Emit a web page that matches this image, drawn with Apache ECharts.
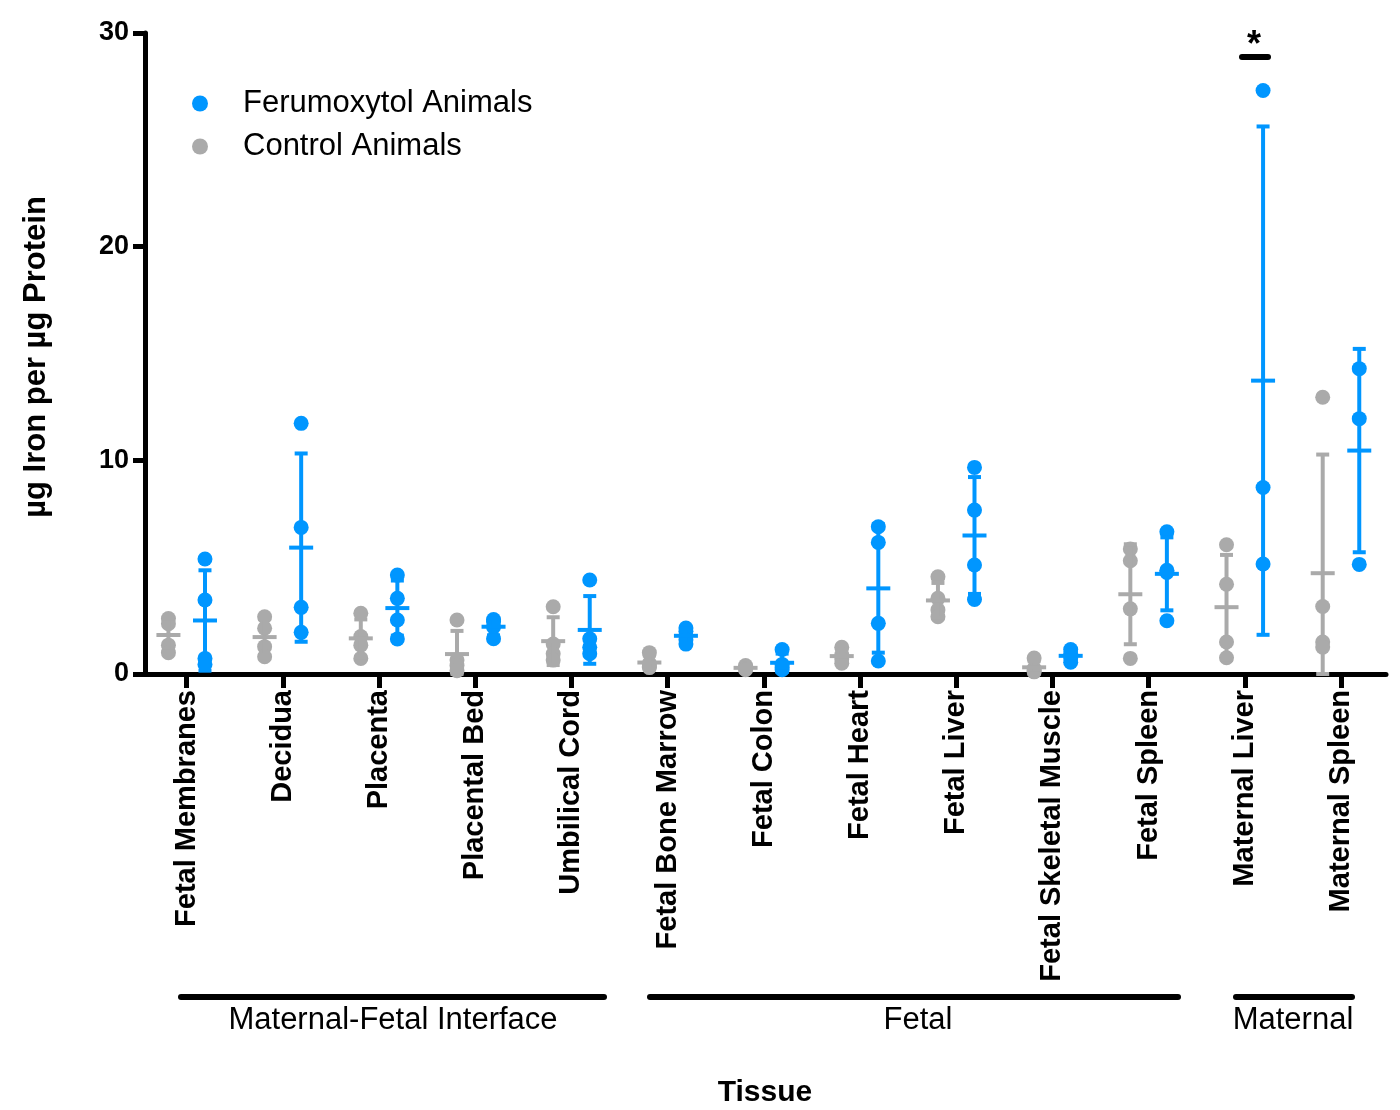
<!DOCTYPE html>
<html>
<head>
<meta charset="utf-8">
<script src="https://cdn.jsdelivr.net/npm/echarts@6/dist/echarts.min.js"></script>
<style>
html,body{margin:0;padding:0;background:#ffffff;}
#c{width:1400px;height:1110px;}
</style>
</head>
<body>
<div id="c"></div>
<script>
// ---------- data ----------
const categories = [
  'Fetal Membranes', 'Decidua', 'Placenta', 'Placental Bed', 'Umbilical Cord',
  'Fetal Bone Marrow', 'Fetal Colon', 'Fetal Heart', 'Fetal Liver',
  'Fetal Skeletal Muscle', 'Fetal Spleen', 'Maternal Liver', 'Maternal Spleen'
];
const controlValues = [
  [2.6, 2.35, 1.35, 1.0],
  [2.68, 2.14, 1.28, 0.81],
  [2.84, 1.75, 1.35, 0.73],
  [2.53, 0.65, 0.4, 0.15],
  [3.15, 1.4, 0.95, 0.65],
  [1.0, 0.5, 0.35, 0.3],
  [0.4, 0.3, 0.25, 0.2],
  [1.25, 0.9, 0.7, 0.5],
  [4.55, 3.54, 3.0, 2.68],
  [0.75, 0.25, 0.15, 0.1],
  [5.85, 5.3, 3.05, 0.73],
  [6.05, 4.2, 1.5, 0.76],
  [12.95, 3.16, 1.5, 1.26]
];
const ferumoxytolValues = [
  [5.38, 3.46, 0.73, 0.45],
  [11.73, 6.86, 3.12, 1.95],
  [4.63, 3.54, 2.53, 1.64],
  [2.55, 2.45, 2.2, 1.65],
  [4.4, 1.65, 1.25, 0.95],
  [2.15, 2.0, 1.6, 1.4],
  [1.15, 0.45, 0.3, 0.2],
  [6.89, 6.16, 2.37, 0.61],
  [9.67, 7.67, 5.1, 3.49],
  [1.15, 0.95, 0.75, 0.55],
  [6.66, 4.85, 4.75, 2.49],
  [27.31, 8.73, 5.15],
  [14.29, 11.95, 5.13]
];
const yTickLabels = [0, 10, 20, 30];
const seriesNames = ['Ferumoxytol Animals', 'Control Animals'];
const groupLabels = ['Maternal-Fetal Interface', 'Fetal', 'Maternal'];
const axisTitles = { x: 'Tissue', y: 'µg Iron per µg Protein' };
const significanceMark = '*';

// ---------- styling ----------
const BLUE = '#0096FF';
const GRAY = '#AAAAAA';
const FONT = '"Liberation Sans", Arial, Helvetica, sans-serif';
const CTRL_OFF = -0.19;
const FER_OFF = 0.19;

// mean and SD computed from the points above
function stats(arr) {
  const n = arr.length;
  const m = arr.reduce((a, b) => a + b, 0) / n;
  const v = arr.reduce((a, b) => a + (b - m) * (b - m), 0) / (n - 1);
  return { mean: m, sd: Math.sqrt(v) };
}
function pointData(vals, off) {
  const out = [];
  vals.forEach((arr, i) => arr.forEach(v => out.push([i + off, v])));
  return out;
}
function summaryData(vals, off) {
  return vals.map((arr, i) => {
    const s = stats(arr);
    return [i + off, s.mean, Math.max(0, s.mean - s.sd), s.mean + s.sd];
  });
}
function errRender(color) {
  return function (params, api) {
    const x = api.value(0);
    const pm = api.coord([x, api.value(1)]);
    const plo = api.coord([x, api.value(2)]);
    const phi = api.coord([x, api.value(3)]);
    const st = { stroke: color, lineWidth: 4 };
    return {
      type: 'group',
      children: [
        { type: 'line', shape: { x1: pm[0], y1: plo[1], x2: pm[0], y2: phi[1] }, style: st },
        { type: 'line', shape: { x1: pm[0] - 6.5, y1: phi[1], x2: pm[0] + 6.5, y2: phi[1] }, style: st },
        { type: 'line', shape: { x1: pm[0] - 6.5, y1: plo[1], x2: pm[0] + 6.5, y2: plo[1] }, style: st },
        { type: 'line', shape: { x1: pm[0] - 12, y1: pm[1], x2: pm[0] + 12, y2: pm[1] }, style: st }
      ]
    };
  };
}

const chart = echarts.init(document.getElementById('c'), null, { renderer: 'canvas' });

const option = {
  animation: false,
  backgroundColor: '#ffffff',
  textStyle: { fontFamily: FONT },
  grid: [
    { left: 145, right: 14, top: 33, bottom: 436, containLabel: false, outerBoundsMode: 'none' },
    { left: 138.6, right: 10.9, top: 33, bottom: 436, containLabel: false, outerBoundsMode: 'none' }
  ],
  legend: {
    data: seriesNames,
    orient: 'vertical',
    left: 192,
    top: 88,
    padding: 0,
    itemGap: 12,
    itemWidth: 16,
    itemHeight: 16,
    icon: 'circle',
    selectedMode: false,
    textStyle: { fontSize: 31, fontFamily: FONT, color: '#000', padding: [0, 0, 0, 30] }
  },
  xAxis: [
    {
      type: 'value', gridIndex: 0, min: -0.4335, max: 12.468,
      axisLine: { show: true, onZero: false, lineStyle: { color: '#000', width: 5 } },
      axisTick: { show: false }, axisLabel: { show: false }, splitLine: { show: false }
    },
    {
      type: 'category', gridIndex: 1, data: categories, boundaryGap: true,
      axisLine: { show: false, onZero: false },
      axisTick: { show: true, alignWithLabel: true, length: 14, lineStyle: { color: '#000', width: 5 } },
      axisLabel: {
        interval: 0, rotate: 90, margin: 16, color: '#000',
        fontSize: 29, fontWeight: 'bold', fontFamily: FONT
      },
      splitLine: { show: false }
    }
  ],
  yAxis: [
    {
      type: 'value', gridIndex: 0, min: yTickLabels[0], max: yTickLabels[yTickLabels.length - 1], interval: 10,
      axisLine: { show: true, onZero: false, lineStyle: { color: '#000', width: 5 } },
      axisTick: { show: true, length: 12, lineStyle: { color: '#000', width: 5 } },
      axisLabel: { margin: 16, color: '#000', fontSize: 27, fontWeight: 'bold', fontFamily: FONT },
      splitLine: { show: false }
    },
    { type: 'value', gridIndex: 1, min: 0, max: 30, show: false }
  ],
  series: [
    {
      name: seriesNames[1], type: 'scatter', xAxisIndex: 0, yAxisIndex: 0,
      data: pointData(controlValues, CTRL_OFF), symbol: 'circle', symbolSize: 15,
      itemStyle: { color: GRAY, opacity: 1 }, emphasis: { disabled: true }, z: 3
    },
    {
      name: 'control-sd', type: 'custom', xAxisIndex: 0, yAxisIndex: 0,
      data: summaryData(controlValues, CTRL_OFF), encode: { x: 0, y: [1, 2, 3] },
      renderItem: errRender(GRAY), z: 4, silent: true
    },
    {
      name: seriesNames[0], type: 'scatter', xAxisIndex: 0, yAxisIndex: 0,
      data: pointData(ferumoxytolValues, FER_OFF), symbol: 'circle', symbolSize: 15,
      itemStyle: { color: BLUE, opacity: 1 }, emphasis: { disabled: true }, z: 3
    },
    {
      name: 'ferumoxytol-sd', type: 'custom', xAxisIndex: 0, yAxisIndex: 0,
      data: summaryData(ferumoxytolValues, FER_OFF), encode: { x: 0, y: [1, 2, 3] },
      renderItem: errRender(BLUE), z: 4, silent: true
    }
  ],
  graphic: [
    {
      type: 'text', x: 36, y: 357, rotation: Math.PI / 2,
      style: { text: axisTitles.y, fontSize: 31, fontWeight: 'bold', fontFamily: FONT, fill: '#000', align: 'center', verticalAlign: 'middle' }
    },
    {
      type: 'text', x: 765, y: 1093,
      style: { text: axisTitles.x, fontSize: 30, fontWeight: 'bold', fontFamily: FONT, fill: '#000', align: 'center', verticalAlign: 'middle' }
    },
    { type: 'line', shape: { x1: 181, y1: 997, x2: 604, y2: 997 }, style: { stroke: '#000', lineWidth: 6, lineCap: 'round' } },
    { type: 'line', shape: { x1: 650, y1: 997, x2: 1178, y2: 997 }, style: { stroke: '#000', lineWidth: 6, lineCap: 'round' } },
    { type: 'line', shape: { x1: 1236, y1: 997, x2: 1352, y2: 997 }, style: { stroke: '#000', lineWidth: 6, lineCap: 'round' } },
    {
      type: 'text', x: 393, y: 1020,
      style: { text: groupLabels[0], fontSize: 31, fontFamily: FONT, fill: '#000', align: 'center', verticalAlign: 'middle' }
    },
    {
      type: 'text', x: 918, y: 1020,
      style: { text: groupLabels[1], fontSize: 31, fontFamily: FONT, fill: '#000', align: 'center', verticalAlign: 'middle' }
    },
    {
      type: 'text', x: 1293, y: 1020,
      style: { text: groupLabels[2], fontSize: 31, fontFamily: FONT, fill: '#000', align: 'center', verticalAlign: 'middle' }
    },
    { type: 'line', shape: { x1: 1242, y1: 57, x2: 1268, y2: 57 }, style: { stroke: '#000', lineWidth: 6, lineCap: 'round' } },
    {
      type: 'text', x: 1254, y: 46,
      style: { text: significanceMark, fontSize: 36, fontWeight: 'bold', fontFamily: FONT, fill: '#000', align: 'center', verticalAlign: 'middle' }
    }
  ]
};

chart.setOption(option);
</script>
</body>
</html>
